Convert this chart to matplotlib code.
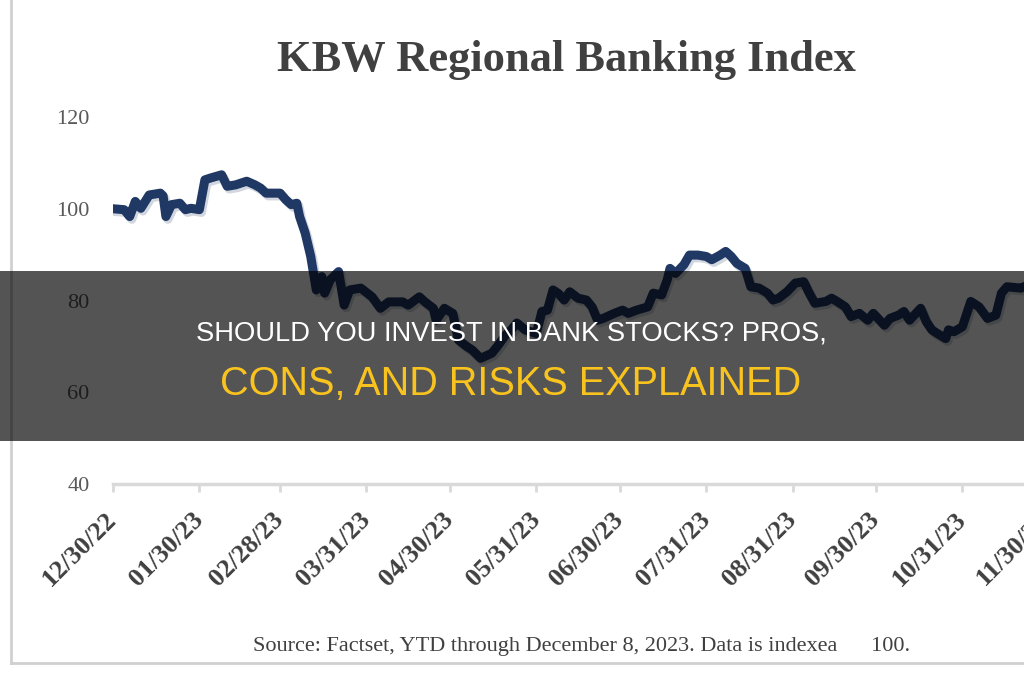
import matplotlib
matplotlib.use("Agg")
import matplotlib.pyplot as plt
import matplotlib.patheffects as pe
from matplotlib.patches import Rectangle
from matplotlib.lines import Line2D
import pandas as pd

# values (indexed to 100 on 12/30/22)
dates = ["2022-12-30", "2023-01-03", "2023-01-05", "2023-01-07", "2023-01-09", "2023-01-12",
         "2023-01-16", "2023-01-17", "2023-01-18", "2023-01-20", "2023-01-23", "2023-01-25",
         "2023-01-27", "2023-01-30", "2023-02-01", "2023-02-03", "2023-02-07", "2023-02-09",
         "2023-02-12", "2023-02-16", "2023-02-19", "2023-02-21", "2023-02-23", "2023-02-28",
         "2023-03-02", "2023-03-04", "2023-03-06", "2023-03-07", "2023-03-09", "2023-03-11",
         "2023-03-12", "2023-03-13", "2023-03-15", "2023-03-16", "2023-03-18", "2023-03-21",
         "2023-03-23", "2023-03-25", "2023-03-29", "2023-04-02", "2023-04-05", "2023-04-08",
         "2023-04-13", "2023-04-15", "2023-04-19", "2023-04-21", "2023-04-24", "2023-04-25",
         "2023-04-28", "2023-05-01", "2023-05-03", "2023-05-06", "2023-05-08", "2023-05-11",
         "2023-05-15", "2023-05-17", "2023-05-20", "2023-05-22", "2023-05-24", "2023-05-27",
         "2023-05-31", "2023-06-02", "2023-06-04", "2023-06-06", "2023-06-08", "2023-06-10",
         "2023-06-12", "2023-06-15", "2023-06-18", "2023-06-20", "2023-06-22", "2023-06-24",
         "2023-06-28", "2023-07-01", "2023-07-03", "2023-07-06", "2023-07-10", "2023-07-12",
         "2023-07-15", "2023-07-17", "2023-07-18", "2023-07-20", "2023-07-23", "2023-07-25",
         "2023-07-28", "2023-07-31", "2023-08-02", "2023-08-05", "2023-08-07", "2023-08-09",
         "2023-08-11", "2023-08-14", "2023-08-16", "2023-08-19", "2023-08-22", "2023-08-24",
         "2023-08-26", "2023-08-29", "2023-09-01", "2023-09-04", "2023-09-06", "2023-09-08",
         "2023-09-12", "2023-09-14", "2023-09-16", "2023-09-19", "2023-09-21", "2023-09-24",
         "2023-09-27", "2023-09-29", "2023-10-03", "2023-10-05", "2023-10-08", "2023-10-10",
         "2023-10-12", "2023-10-16", "2023-10-18", "2023-10-20", "2023-10-22", "2023-10-25",
         "2023-10-26", "2023-10-28", "2023-10-31", "2023-11-03", "2023-11-06", "2023-11-09",
         "2023-11-12", "2023-11-14", "2023-11-16", "2023-11-21", "2023-11-24", "2023-11-28",
         "2023-12-01", "2023-12-05", "2023-12-08"]
index_vals = [100.0, 99.8, 98.3, 101.6, 100.1, 103.0,
              103.4, 102.8, 98.3, 100.9, 101.2, 99.8,
              100.1, 99.8, 106.3, 106.7, 107.4, 104.9,
              105.2, 106.0, 105.2, 104.5, 103.4, 103.4,
              102.0, 100.9, 101.2, 98.3, 94.7, 89.6,
              86.0, 82.3, 85.2, 81.6, 84.5, 86.3,
              79.0, 82.3, 82.7, 80.8, 78.3, 79.7,
              79.7, 79.0, 80.8, 79.7, 78.3, 75.7,
              78.3, 77.2, 71.4, 70.0, 69.2, 67.4,
              68.5, 70.0, 72.5, 73.6, 75.1, 73.6,
              72.8, 77.6, 77.9, 82.3, 81.5, 80.1,
              81.9, 80.5, 80.1, 78.6, 75.7, 76.1,
              77.2, 77.9, 77.2, 77.9, 78.6, 81.6,
              81.2, 84.5, 87.0, 85.9, 87.8, 89.9,
              89.9, 89.6, 88.9, 89.9, 90.7, 89.6,
              88.1, 87.0, 83.0, 82.7, 81.6, 80.1,
              80.5, 81.9, 83.8, 84.1, 81.6, 79.4,
              79.8, 80.5, 79.8, 78.6, 76.5, 77.2,
              75.7, 77.2, 74.6, 76.1, 76.8, 77.6,
              75.7, 78.3, 75.4, 73.6, 72.8, 71.7,
              73.6, 73.2, 74.3, 79.8, 78.6, 76.1,
              76.8, 81.6, 83.0, 82.7, 83.5, 82.6,
              83.2, 84.0, 84.5]

tick_dates = ["2022-12-30", "2023-01-30", "2023-02-28", "2023-03-31", "2023-04-30", "2023-05-31",
              "2023-06-30", "2023-07-31", "2023-08-31", "2023-09-30", "2023-10-31", "2023-11-30"]
tick_labels = ["12/30/22", "01/30/23", "02/28/23", "03/31/23", "04/30/23", "05/31/23",
               "06/30/23", "07/31/23", "08/31/23", "09/30/23", "10/31/23", "11/30/23"]
y_ticks = [40, 60, 80, 100, 120]

title = "KBW Regional Banking Index"
source = "Source: Factset, YTD through December 8, 2023. Data is indexea      100."
banner_1 = "SHOULD YOU INVEST IN BANK STOCKS? PROS,"
banner_2 = "CONS, AND RISKS EXPLAINED"

W, H = 1024, 680
fig = plt.figure(figsize=(W / 100, H / 100), dpi=100)
serif = ["Liberation Serif", "DejaVu Serif"]
sans = ["Liberation Sans", "DejaVu Sans"]

# axes runs past the right edge like the cropped original
x0 = pd.Timestamp("2022-12-30")
x1 = pd.Timestamp("2023-12-21")
px_per_day = 2.785
ax_left, ax_right = 113, 113 + (x1 - x0).days * px_per_day
ax_top, ax_bot = 117, 484
ax = fig.add_axes([ax_left / W, 1 - ax_bot / H, (ax_right - ax_left) / W, (ax_bot - ax_top) / H])

x = pd.to_datetime(dates)
ax.plot(x, index_vals, color="#1F3864", lw=6.5, solid_joinstyle="round",
        path_effects=[pe.SimpleLineShadow(offset=(1.5, -2.0), shadow_color="#7F8FA6", alpha=0.35),
                      pe.Normal()])

ax.set_xlim(x0, x1)
ax.set_ylim(40, 120)
ax.set_yticks(y_ticks)
ax.set_yticklabels([str(v) for v in y_ticks], family=serif, fontsize=16, color="#595959")
ax.set_xticks(pd.to_datetime(tick_dates))
ax.set_xticklabels(tick_labels, family=serif, fontsize=19, fontweight="bold", color="#404040",
                   rotation=45, ha="right", va="center", rotation_mode="anchor")
ax.tick_params(axis="y", length=0, pad=17)
ax.tick_params(axis="x", length=6, width=2, color="#D9D9D9", pad=17)
for s in ["left", "right", "top"]:
    ax.spines[s].set_visible(False)
ax.spines["bottom"].set_color("#D9D9D9")
ax.spines["bottom"].set_linewidth(2.5)

fig.text(566 / W, 1 - 60 / H, title, family=serif, fontsize=32, fontweight="bold",
         color="#404040", ha="center", va="center")
fig.text(582 / W, 1 - 647 / H, source, family=serif, fontsize=16, color="#404040",
         ha="center", va="center")

# light frame of the original screenshot
fig.add_artist(Line2D([11 / W, 11 / W], [1 - 663 / H, 1.0], color="#D0D0D0", lw=2))
fig.add_artist(Line2D([11 / W, 1.0], [1 - 663 / H, 1 - 663 / H], color="#D0D0D0", lw=2))

# dark banner over the chart
fig.add_artist(Rectangle((0, 1 - 441 / H), 1, 170 / H, transform=fig.transFigure,
                         facecolor="black", alpha=0.67, edgecolor="none", zorder=5))
fig.text(511 / W, 1 - 333 / H, banner_1, family=sans, fontsize=19.7,
         color="white", ha="center", va="center", zorder=6)
fig.text(511 / W, 1 - 384 / H, banner_2, family=sans, fontsize=28.5,
         color="#F9C31F", ha="center", va="center", zorder=6)

fig.savefig("out.png", dpi=100)
